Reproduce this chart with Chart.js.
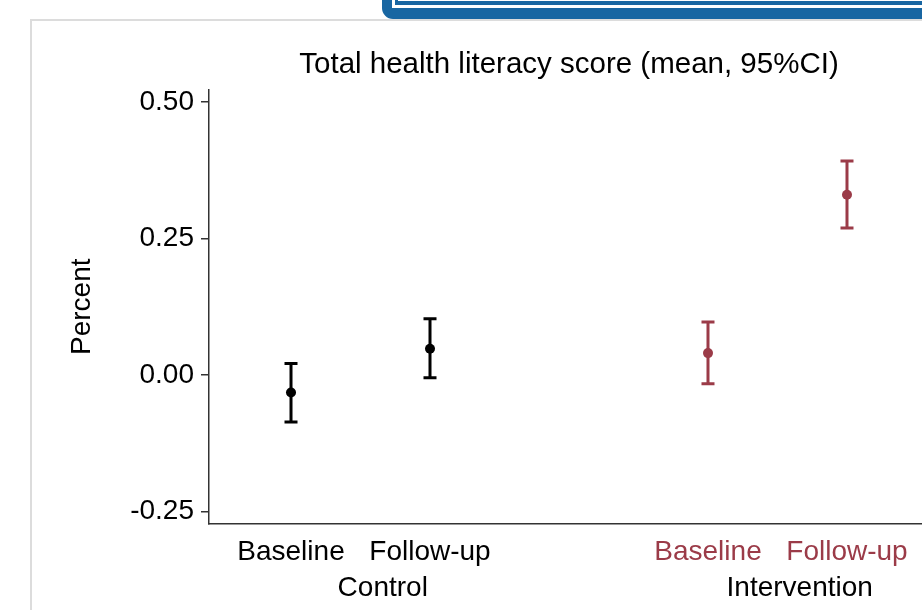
<!DOCTYPE html>
<html>
<head>
<meta charset="utf-8">
<script src="https://cdn.jsdelivr.net/npm/chart.js@4.4.0/dist/chart.umd.min.js"></script>
<style>
  html, body { margin: 0; padding: 0; background: #fff; overflow: hidden; width: 922px; height: 610px; }
  #frame { position: absolute; left: 30px; top: 19px; width: 1000px; height: 700px;
           border-left: 2px solid #dcdcdc; border-top: 2px solid #dcdcdc; }
  #badge { position: absolute; left: 382px; top: -40px; width: 600px; height: 59px;
           background: #1866a2; border-bottom-left-radius: 11px; }
  #badge .gap { position: absolute; left: 10px; bottom: 11px; right: 0; top: 0; background: #fff; }
  #badge .inner { position: absolute; left: 3px; bottom: 3px; right: 0; top: 0; background: #fff;
                  border-left: 3px solid #1866a2; border-bottom: 4px solid #1866a2; }
  #wrap { position: absolute; left: 0; top: 0; }
</style>
</head>
<body>
<div id="frame"></div>
<div id="badge"><div class="gap"><div class="inner"></div></div></div>
<div id="wrap"><canvas id="ch-hl" width="960" height="610"></canvas></div>
<script>
// ── Datos ──────────────────────────────────────────────────────────────
const categories  = ['Baseline', 'Follow-up', 'Baseline', 'Follow-up'];
const xPositions  = [0, 1, 3, 4];
const groups      = ['Control', 'Intervention'];
const yTicks      = [-0.25, 0, 0.25, 0.5];

const controlMean      = [-0.032, 0.048];
const controlLow       = [-0.086, -0.005];
const controlHigh      = [0.021, 0.103];
const interventionMean = [0.040, 0.330];
const interventionLow  = [-0.016, 0.269];
const interventionHigh = [0.097, 0.392];

const BLACK = '#000000';
const RED   = '#9b3b48';
const tickColors = [BLACK, BLACK, RED, RED];

Chart.defaults.font.family = "'Liberation Sans', Arial, sans-serif";
Chart.defaults.color = '#000';

// ── Barras de error (IC 95%) ───────────────────────────────────────────
const errorBars = {
    id: 'errorBars',
    beforeDatasetsDraw(chart) {
        const { ctx, scales: { x, y } } = chart;
        chart.data.datasets.forEach(ds => {
            ds.data.forEach((p, i) => {
                const px = x.getPixelForValue(p.x);
                const lo = y.getPixelForValue(ds.ciLow[i]);
                const hi = y.getPixelForValue(ds.ciHigh[i]);
                ctx.save();
                ctx.strokeStyle = ds.borderColor;
                ctx.lineWidth = 3;
                ctx.beginPath();
                ctx.moveTo(px, lo); ctx.lineTo(px, hi);
                ctx.moveTo(px - 6.5, lo); ctx.lineTo(px + 6.5, lo);
                ctx.moveTo(px - 6.5, hi); ctx.lineTo(px + 6.5, hi);
                ctx.stroke();
                ctx.restore();
            });
        });
    },
};

// ── Etiquetas de grupo bajo el eje X ───────────────────────────────────
const groupLabels = {
    id: 'groupLabels',
    afterDraw(chart) {
        const { ctx, scales: { x } } = chart;
        ctx.save();
        ctx.font = "28px 'Liberation Sans', Arial, sans-serif";
        ctx.fillStyle = '#000';
        ctx.textAlign = 'center';
        ctx.textBaseline = 'middle';
        groups.forEach((g, gi) => {
            const first = xPositions[gi * 2];
            ctx.fillText(g, x.getPixelForValue(first + 0.66), 588);
        });
        ctx.restore();
    },
};

const toPoints = (xs, ys) => ys.map((v, i) => ({ x: xs[i], y: v }));

new Chart(document.getElementById('ch-hl').getContext('2d'), {
    type: 'scatter',
    data: {
        datasets: [
            { label: 'Control', data: toPoints(xPositions.slice(0, 2), controlMean),
              ciLow: controlLow, ciHigh: controlHigh,
              backgroundColor: BLACK, borderColor: BLACK, pointRadius: 5, pointBorderWidth: 0 },
            { label: 'Intervention', data: toPoints(xPositions.slice(2), interventionMean),
              ciLow: interventionLow, ciHigh: interventionHigh,
              backgroundColor: RED, borderColor: RED, pointRadius: 5, pointBorderWidth: 0 },
        ],
    },
    options: {
        responsive: false, animation: false, devicePixelRatio: 1,
        layout: { padding: { top: 47, left: 40, right: 31, bottom: 0 } },
        plugins: {
            legend: { display: false },
            tooltip: { enabled: false },
            title: {
                display: true, fullSize: false,
                text: 'Total health literacy score (mean, 95%CI)',
                font: { size: 29.5, weight: 'normal' }, color: '#000',
                padding: { top: 0, bottom: 7 },
            },
        },
        scales: {
            x: {
                type: 'linear', min: -0.59, max: 4.59,
                afterFit: s => { s.height = 86; },
                afterBuildTicks: s => { s.ticks = xPositions.map(v => ({ value: v })); },
                grid: { display: false, drawTicks: false },
                border: { display: true, color: '#333', width: 1.5 },
                ticks: {
                    autoSkip: false, maxRotation: 0, padding: 11,
                    font: { size: 28 },
                    color: c => tickColors[c.index],
                    callback: (v, i) => categories[i],
                },
            },
            y: {
                min: -0.273, max: 0.523,
                afterFit: s => { s.width = 169; },
                afterBuildTicks: s => { s.ticks = yTicks.map(v => ({ value: v })); },
                grid: { drawOnChartArea: false, drawTicks: true, tickLength: 8, color: '#333', lineWidth: 1.5 },
                border: { display: true, color: '#333', width: 1.5 },
                ticks: { padding: 7, font: { size: 28 }, color: '#000', callback: v => v.toFixed(2) },
                title: { display: true, text: 'Percent', font: { size: 28 }, color: '#000', padding: { top: 25, bottom: 0 } },
            },
        },
    },
    plugins: [errorBars, groupLabels],
});
</script>
</body>
</html>
